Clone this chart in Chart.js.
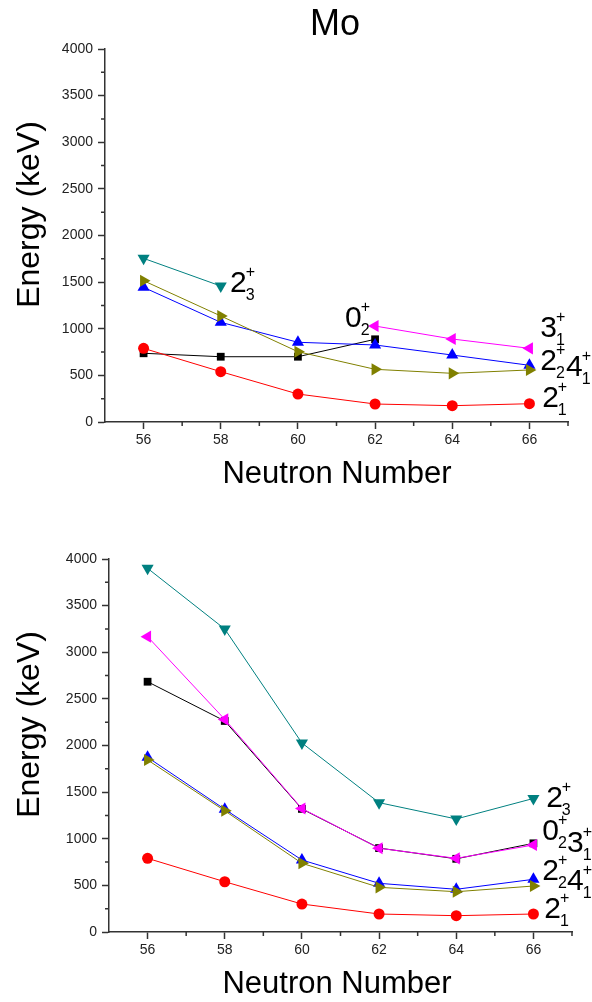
<!DOCTYPE html>
<html>
<head>
<meta charset="utf-8">
<script src="https://cdn.jsdelivr.net/npm/chart.js@4.4.1/dist/chart.umd.min.js"></script>
<style>
  body { margin: 0; background: #fff; }
  .box { position: relative; width: 592px; height: 501px; }
</style>
</head>
<body>
<div class="box"><canvas id="topChart"></canvas></div>
<div class="box"><canvas id="botChart"></canvas></div>
<script>
// Neutron numbers (x axis)
const neutrons = [56, 58, 60, 62, 64, 66];
const xTicks = [56, 58, 60, 62, 64, 66];
const xMinor = [57, 59, 61, 63, 65, 67];
const yTicks = [0, 500, 1000, 1500, 2000, 2500, 3000, 3500, 4000];
const yMinor = [250, 750, 1250, 1750, 2250, 2750, 3250, 3750];

// upper panel (keV)
const top21 = [790, 540, 300, 193, 175, 196];
const top02 = [737, 700, 700, 887, null, null];
const top22 = [1444, 1069, 855, 826, 718, 608];
const top41 = [1515, 1137, 754, 565, 522, 558];
const top23 = [1755, 1458, null, null, null, null];
const top31 = [null, null, null, 1029, 890, 790];

// lower panel (keV)
const bot21 = [790, 539, 300, 193, 175, 193];
const bot02 = [2684, 2263, 1320, 900, 785, 951];
const bot22 = [1873, 1316, 772, 522, 458, 565];
const bot41 = [1845, 1300, 737, 479, 432, 493];
const bot23 = [3900, 3249, 2027, 1387, 1212, 1432];
const bot31 = [3167, 2280, 1324, 898, 790, 933];

// state labels, placed in data coordinates (left edge / baseline)
const topLabels = [
  { x: 58.24, y: 1394, main: "2", sup: "+", sub: "3" },
  { x: 61.22, y: 1019, main: "0", sup: "+", sub: "2" },
  { x: 66.28, y: 912, main: "3", sup: "+", sub: "1" },
  { x: 66.28, y: 558, main: "2", sup: "+", sub: "2" },
  { x: 66.95, y: 493, main: "4", sup: "+", sub: "1" },
  { x: 66.33, y: 161, main: "2", sup: "+", sub: "1" }
];
const botLabels = [
  { x: 66.33, y: 1340, main: "2", sup: "+", sub: "3" },
  { x: 66.23, y: 987, main: "0", sup: "+", sub: "2" },
  { x: 66.87, y: 858, main: "3", sup: "+", sub: "1" },
  { x: 66.23, y: 558, main: "2", sup: "+", sub: "2" },
  { x: 66.87, y: 450, main: "4", sup: "+", sub: "1" },
  { x: 66.28, y: 150, main: "2", sup: "+", sub: "1" }
];

const FONT = "'Liberation Sans', Arial, sans-serif";

function pts(arr) {
  return neutrons.map((n, i) => ({ x: n, y: arr[i] })).filter(p => p.y !== null);
}

function series(label, arr, color, style, rot, r) {
  return {
    label, data: pts(arr),
    borderColor: color, backgroundColor: color,
    borderWidth: 1, pointStyle: style, pointRotation: rot,
    pointRadius: r, pointHoverRadius: r, pointBorderWidth: 0,
    tension: 0, spanGaps: false
  };
}

const extras = {
  id: "extras",
  afterDraw(chart, args, o) {
    const { ctx, chartArea: a, scales: { x, y } } = chart;
    ctx.save();
    // minor ticks
    ctx.strokeStyle = "#333";
    ctx.lineWidth = 1.5;
    ctx.beginPath();
    xMinor.forEach(v => {
      const px = x.getPixelForValue(v);
      ctx.moveTo(px, a.bottom); ctx.lineTo(px, a.bottom + 4);
    });
    yMinor.forEach(v => {
      const py = y.getPixelForValue(v);
      ctx.moveTo(a.left, py); ctx.lineTo(a.left - 4, py);
    });
    ctx.stroke();

    ctx.fillStyle = "#000";
    // title
    if (o.title) {
      ctx.font = `36px ${FONT}`;
      ctx.textAlign = "center";
      ctx.textBaseline = "alphabetic";
      ctx.fillText(o.title, 335, 35);
    }
    // x title
    ctx.font = `31px ${FONT}`;
    ctx.textAlign = "center";
    ctx.textBaseline = "alphabetic";
    ctx.fillText("Neutron Number", 337, a.bottom + 61);
    // y title
    ctx.save();
    ctx.translate(30, (a.top + a.bottom) / 2 - 21);
    ctx.rotate(-Math.PI / 2);
    ctx.font = `32px ${FONT}`;
    ctx.textBaseline = "middle";
    ctx.fillText("Energy (keV)", 0, 0);
    ctx.restore();

    // state labels
    ctx.textAlign = "left";
    ctx.textBaseline = "alphabetic";
    o.labels.forEach(l => {
      const px = x.getPixelForValue(l.x);
      const py = y.getPixelForValue(l.y);
      ctx.font = `30px ${FONT}`;
      ctx.fillText(l.main, px, py);
      const w = ctx.measureText(l.main).width;
      ctx.font = `16px ${FONT}`;
      ctx.fillText(l.sup, px + w - 1, py - 15);
      ctx.fillText(l.sub, px + w - 1, py + 8);
    });
    ctx.restore();
  }
};

function makeChart(id, d, geo, labels, title) {
  const W = 592, H = 501;
  return new Chart(document.getElementById(id), {
    type: "line",
    data: {
      datasets: [
        series("2_1+", d.e21, "#ff0000", "circle", 0, 5.5),
        series("4_1+", d.e41, "#808000", "triangle", 90, 7),
        series("2_2+", d.e22, "#0000ff", "triangle", 0, 7),
        series("3_1+", d.e31, "#ff00ff", "triangle", -90, 7),
        series("0_2+", d.e02, "#000000", "rect", 0, 5.5),
        series("2_3+", d.e23, "#008080", "triangle", 180, 7)
      ]
    },
    options: {
      responsive: true,
      maintainAspectRatio: false,
      animation: false,
      layout: { padding: { top: geo.top, right: W - geo.right, left: 0, bottom: 0 } },
      plugins: {
        legend: { display: false },
        tooltip: { enabled: false },
        extras: { labels, title }
      },
      scales: {
        x: {
          type: "linear", min: 55, max: 67,
          afterBuildTicks: s => { s.ticks = xTicks.map(v => ({ value: v })); },
          afterFit: s => { s.height = H - geo.bottom; },
          grid: { drawOnChartArea: false, tickLength: 7, tickColor: "#333", tickWidth: 1.5 },
          border: { color: "#333", width: 1.5 },
          ticks: { color: "#222", font: { size: 14, family: FONT }, padding: 3, maxRotation: 0,
                   callback: v => String(v) }
        },
        y: {
          min: 0, max: 4000,
          afterBuildTicks: s => { s.ticks = yTicks.map(v => ({ value: v })); },
          afterFit: s => { s.width = geo.left; },
          grid: { drawOnChartArea: false, tickLength: 7, tickColor: "#333", tickWidth: 1.5 },
          border: { color: "#333", width: 1.5 },
          ticks: { color: "#222", font: { size: 14, family: FONT }, padding: 5,
                   callback: v => String(v) }
        }
      }
    },
    plugins: [extras]
  });
}

makeChart("topChart",
  { e21: top21, e02: top02, e22: top22, e41: top41, e23: top23, e31: top31 },
  { left: 105, right: 568, top: 49, bottom: 422 }, topLabels, "Mo");

makeChart("botChart",
  { e21: bot21, e02: bot02, e22: bot22, e41: bot41, e23: bot23, e31: bot31 },
  { left: 109, right: 572, top: 58, bottom: 431 }, botLabels, null);
</script>
</body>
</html>
